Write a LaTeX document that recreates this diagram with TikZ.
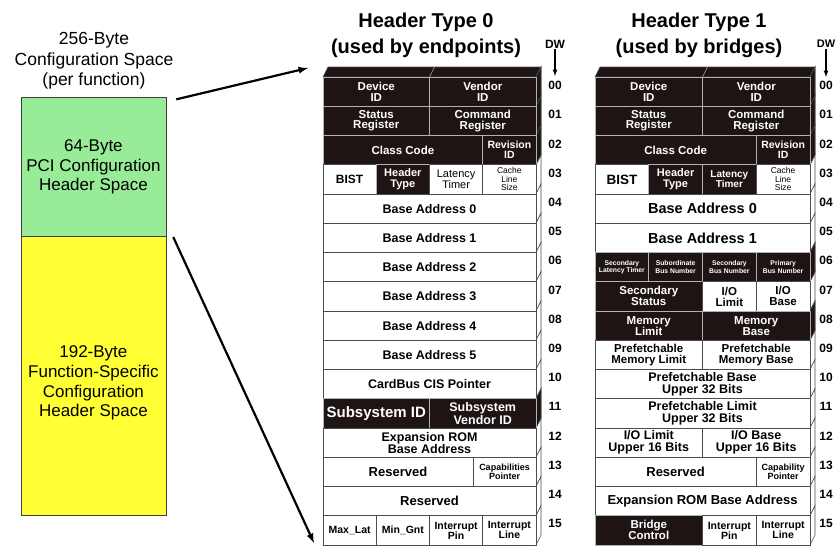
\documentclass[tikz,border=0pt]{standalone}
\usepackage{fontspec}
\setmainfont{Liberation Sans}
\definecolor{regdark}{RGB}{30,20,20}
\definecolor{hdrgreen}{RGB}{152,236,152}
\definecolor{fnyellow}{RGB}{255,255,51}
\newcommand{\fsz}[2]{\fontsize{#1pt}{#2pt}\selectfont}

\begin{document}
\begin{tikzpicture}[
  x=1pt, y=1pt,
  cell/.style={draw=black!70, line width=0.6pt, fill=white, inner sep=0pt, outer sep=0pt,
               minimum height=29.25pt, align=center, font={\bfseries\fsz{12.5}{12}}},
  dark/.style={cell, draw=black!30, fill=regdark, text=white},
  side/.style={draw=black!70, line width=0.6pt, fill=white},
  dside/.style={side, fill=regdark},
  space/.style={draw=black!75, line width=0.7pt, inner sep=0pt, align=center, font=\fsz{17}{19.5}},
  title/.style={align=center, font={\bfseries\fsz{20}{26}}},
  dwnum/.style={font={\bfseries\fsz{12}{12}}, inner sep=1pt},
  flow/.style={draw, -latex, line width=2.2pt},
  dwflow/.style={draw, -latex, line width=1.2pt},
]
\useasboundingbox (0,0) rectangle (837,-546);

% ---------------- the 256 bytes of one function ----------------
\node[align=center, font=\fsz{17.5}{20.5}] (cfgspace) at (94,-61)
  {256-Byte\\Configuration Space\\(per function)};
\node[space, fill=hdrgreen, minimum width=145pt, minimum height=139pt] (pcihdr) at (93.4,-167.2)
  {64-Byte\\PCI Configuration\\Header Space};
\node[space, fill=fnyellow, minimum width=145pt, minimum height=278.3pt] (fnspec) at (93.4,-375.85) {};
\node[align=center, font=\fsz{17}{19.8}] (fnlbl) at (93.4,-383)
  {192-Byte\\Function-Specific\\Configuration\\Header Space};

% the header is blown up on the right
\coordinate (t0top) at (308,-68);
\coordinate (t0bot) at (314,-543);
\draw[flow] ([xshift=10pt,yshift=-2pt]pcihdr.north east) -- (t0top);
\draw[flow] ([xshift=7pt]pcihdr.south east) -- (t0bot);

% ---------------- header type 0 ----------------
\node[title] (t0title) at (426,-35) {Header Type 0\\(used by endpoints)};
\node[dwnum] (t0dw) at (555,-44) {DW};
\coordinate (t0dwend) at (555,-76);
\draw[dwflow] (t0dw) -- (t0dwend);

\draw[dside] (323,-77) -- ++(5,10) -- (541,-67) -- (536,-77) -- cycle;
\draw[black!35, line width=0.6pt] (429.5,-77) -- ++(5,10);
\foreach \i in {0,...,15}
  \draw[side] (536,{-77-29.25*\i}) -- ++(5,10) -- ++(0,-29.25) -- ++(-5,-10) -- cycle;
\foreach \i in {0,1,2,11}
  \draw[dside] (536,{-77-29.25*\i}) -- ++(5,10) -- ++(0,-29.25) -- ++(-5,-10) -- cycle;

\node[dark, minimum width=106.5pt, font={\bfseries\fsz{11.5}{10.5}}] (t0dev) at (376.25,-91.63) {Device\\ID};
\node[dark, minimum width=106.5pt, font={\bfseries\fsz{11.5}{10.5}}] (t0ven) at (482.75,-91.63) {Vendor\\ID};
\node[dark, minimum width=106.5pt, font={\bfseries\fsz{11.5}{10.5}}] (t0sts) at (376.25,-120.88) {Status\\Register};
\node[dark, minimum width=106.5pt, font={\bfseries\fsz{11.5}{10.5}}] (t0cmd) at (482.75,-120.88) {Command\\Register};
\node[dark, minimum width=159.75pt, font={\bfseries\fsz{11.5}{11}}] (t0cls) at (402.88,-150.13) {Class Code};
\node[dark, minimum width=53.25pt, font={\bfseries\fsz{10.5}{10}}] (t0rev) at (509.38,-150.13) {Revision\\ID};
\node[cell, minimum width=53.25pt, font={\bfseries\fsz{12}{12}}] (t0bist) at (349.63,-179.38) {BIST};
\node[dark, minimum width=53.25pt, font={\bfseries\fsz{11}{10.5}}] (t0htype) at (402.88,-179.38) {Header\\Type};
\node[cell, minimum width=53.25pt, font={\fsz{11}{10.5}}] (t0lat) at (456.13,-179.38) {Latency\\Timer};
\node[cell, minimum width=53.25pt, font={\fsz{8.5}{8.5}}] (t0cache) at (509.38,-179.38) {Cache\\Line\\Size};
\foreach \n in {0,...,5}
  \node[cell, minimum width=213pt] (t0bar\n) at (429.5,{-208.63-29.25*\n}) {Base Address \n};
\node[cell, minimum width=213pt] (t0cis) at (429.5,-384.13) {CardBus CIS Pointer};
\node[dark, minimum width=106.5pt, font={\bfseries\fsz{15}{15}}] (t0ssid) at (376.25,-413.38) {Subsystem ID};
\node[dark, minimum width=106.5pt, font={\bfseries\fsz{12.5}{11.5}}] (t0ssvid) at (482.75,-413.38) {Subsystem\\Vendor ID};
\node[cell, minimum width=213pt] (t0rom) at (429.5,-442.63) {Expansion ROM\\Base Address};
\node[cell, minimum width=150pt, font={\bfseries\fsz{13}{13}}] (t0rsva) at (398,-471.88) {Reserved};
\node[cell, minimum width=63pt, font={\bfseries\fsz{9}{9.5}}] (t0cap) at (504.5,-471.88) {Capabilities\\Pointer};
\node[cell, minimum width=213pt, font={\bfseries\fsz{13}{13}}] (t0rsvb) at (429.5,-501.13) {Reserved};
\node[cell, minimum width=53.25pt, font={\bfseries\fsz{10.5}{10}}] (t0maxl) at (349.63,-530.38) {Max\_Lat};
\node[cell, minimum width=53.25pt, font={\bfseries\fsz{10.5}{10}}] (t0ming) at (402.88,-530.38) {Min\_Gnt};
\node[cell, minimum width=53.25pt, font={\bfseries\fsz{10.5}{10}}] (t0ipin) at (456.13,-530.38) {Interrupt\\Pin};
\node[cell, minimum width=53.25pt, font={\bfseries\fsz{10.5}{10}}] (t0iline) at (509.38,-530.38) {Interrupt\\Line};

\foreach \d [count=\i from 0] in {00,01,02,03,04,05,06,07,08,09,10,11,12,13,14,15}
  \node[dwnum] (t0d\d) at (555,{-85.6-29.2*\i}) {\d};

% ---------------- header type 1 ----------------
\node[title] (t1title) at (699,-35) {Header Type 1\\(used by bridges)};
\node[dwnum, font={\bfseries\fsz{11}{11}}] (t1dw) at (826,-44) {DW};
\coordinate (t1dwend) at (826,-77);
\draw[dwflow] (t1dw) -- (t1dwend);

\draw[dside] (595,-77) -- ++(5,10) -- (815,-67) -- (810,-77) -- cycle;
\draw[black!35, line width=0.6pt] (702.5,-77) -- ++(5,10);
\foreach \i in {0,...,15}
  \draw[side] (810,{-77-29.25*\i}) -- ++(5,10) -- ++(0,-29.25) -- ++(-5,-10) -- cycle;
\foreach \i in {0,1,2,6,8}
  \draw[dside] (810,{-77-29.25*\i}) -- ++(5,10) -- ++(0,-29.25) -- ++(-5,-10) -- cycle;

\node[dark, minimum width=107.5pt, font={\bfseries\fsz{11.5}{10.5}}] (t1dev) at (648.75,-91.63) {Device\\ID};
\node[dark, minimum width=107.5pt, font={\bfseries\fsz{11.5}{10.5}}] (t1ven) at (756.25,-91.63) {Vendor\\ID};
\node[dark, minimum width=107.5pt, font={\bfseries\fsz{11.5}{10.5}}] (t1sts) at (648.75,-120.88) {Status\\Register};
\node[dark, minimum width=107.5pt, font={\bfseries\fsz{11.5}{10.5}}] (t1cmd) at (756.25,-120.88) {Command\\Register};
\node[dark, minimum width=161.25pt, font={\bfseries\fsz{11.5}{11}}] (t1cls) at (675.63,-150.13) {Class Code};
\node[dark, minimum width=53.75pt, font={\bfseries\fsz{10.5}{10}}] (t1rev) at (783.13,-150.13) {Revision\\ID};
\node[cell, minimum width=53.75pt, font={\bfseries\fsz{13.5}{13}}] (t1bist) at (621.88,-179.38) {BIST};
\node[dark, minimum width=53.75pt, font={\bfseries\fsz{11}{10.5}}] (t1htype) at (675.63,-179.38) {Header\\Type};
\node[dark, minimum width=53.75pt, font={\bfseries\fsz{10}{10}}] (t1lat) at (729.38,-179.38) {Latency\\Timer};
\node[cell, minimum width=53.75pt, font={\fsz{8.5}{8.5}}] (t1cache) at (783.13,-179.38) {Cache\\Line\\Size};
\node[cell, minimum width=215pt, font={\bfseries\fsz{14.5}{14}}] (t1bar0) at (702.5,-208.63) {Base Address 0};
\node[cell, minimum width=215pt, font={\bfseries\fsz{14.5}{14}}] (t1bar1) at (702.5,-237.88) {Base Address 1};
\node[dark, minimum width=53.75pt, font={\bfseries\fsz{6.8}{7.5}}] (t1slat) at (621.88,-267.13) {Secondary\\Latency Timer};
\node[dark, minimum width=53.75pt, font={\bfseries\fsz{6.8}{7.5}}] (t1subb) at (675.63,-267.13) {Subordinate\\Bus Number};
\node[dark, minimum width=53.75pt, font={\bfseries\fsz{6.8}{7.5}}] (t1secb) at (729.38,-267.13) {Secondary\\Bus Number};
\node[dark, minimum width=53.75pt, font={\bfseries\fsz{6.8}{7.5}}] (t1prib) at (783.13,-267.13) {Primary\\Bus Number};
\node[dark, minimum width=107.5pt, font={\bfseries\fsz{11.5}{11}}] (t1ssts) at (648.75,-296.38) {Secondary\\Status};
\node[cell, minimum width=53.75pt, font={\bfseries\fsz{11.5}{11}}] (t1iolim) at (729.38,-296.38) {I/O\\Limit};
\node[cell, minimum width=53.75pt, font={\bfseries\fsz{11.5}{11}}] (t1iobas) at (783.13,-296.38) {I/O\\Base};
\node[dark, minimum width=107.5pt, font={\bfseries\fsz{11.5}{11}}] (t1memlim) at (648.75,-325.63) {Memory\\Limit};
\node[dark, minimum width=107.5pt, font={\bfseries\fsz{11.5}{11}}] (t1membas) at (756.25,-325.63) {Memory\\Base};
\node[cell, minimum width=107.5pt, font={\bfseries\fsz{11.5}{11}}] (t1pflim) at (648.75,-354.88) {Prefetchable\\Memory Limit};
\node[cell, minimum width=107.5pt, font={\bfseries\fsz{11.5}{11}}] (t1pfbas) at (756.25,-354.88) {Prefetchable\\Memory Base};
\node[cell, minimum width=215pt] (t1pfbup) at (702.5,-384.13) {Prefetchable Base\\Upper 32 Bits};
\node[cell, minimum width=215pt] (t1pflup) at (702.5,-413.38) {Prefetchable Limit\\Upper 32 Bits};
\node[cell, minimum width=107.5pt] (t1iolup) at (648.75,-442.63) {I/O Limit\\Upper 16 Bits};
\node[cell, minimum width=107.5pt] (t1iobup) at (756.25,-442.63) {I/O Base\\Upper 16 Bits};
\node[cell, minimum width=161.25pt, font={\bfseries\fsz{13}{13}}] (t1rsv) at (675.63,-471.88) {Reserved};
\node[cell, minimum width=53.75pt, font={\bfseries\fsz{9}{9.5}}] (t1cap) at (783.13,-471.88) {Capability\\Pointer};
\node[cell, minimum width=215pt, font={\bfseries\fsz{13}{13}}] (t1rom) at (702.5,-501.13) {Expansion ROM Base Address};
\node[dark, minimum width=107.5pt, font={\bfseries\fsz{11.5}{11}}] (t1brctl) at (648.75,-530.38) {Bridge\\Control};
\node[cell, minimum width=53.75pt, font={\bfseries\fsz{10.5}{10}}] (t1ipin) at (729.38,-530.38) {Interrupt\\Pin};
\node[cell, minimum width=53.75pt, font={\bfseries\fsz{10.5}{10}}] (t1iline) at (783.13,-530.38) {Interrupt\\Line};

\foreach \d [count=\i from 0] in {00,01,02,03,04,05,06,07,08,09,10,11,12,13,14,15}
  \node[dwnum] (t1d\d) at (826,{-85.6-29.2*\i}) {\d};

\end{tikzpicture}
\end{document}
